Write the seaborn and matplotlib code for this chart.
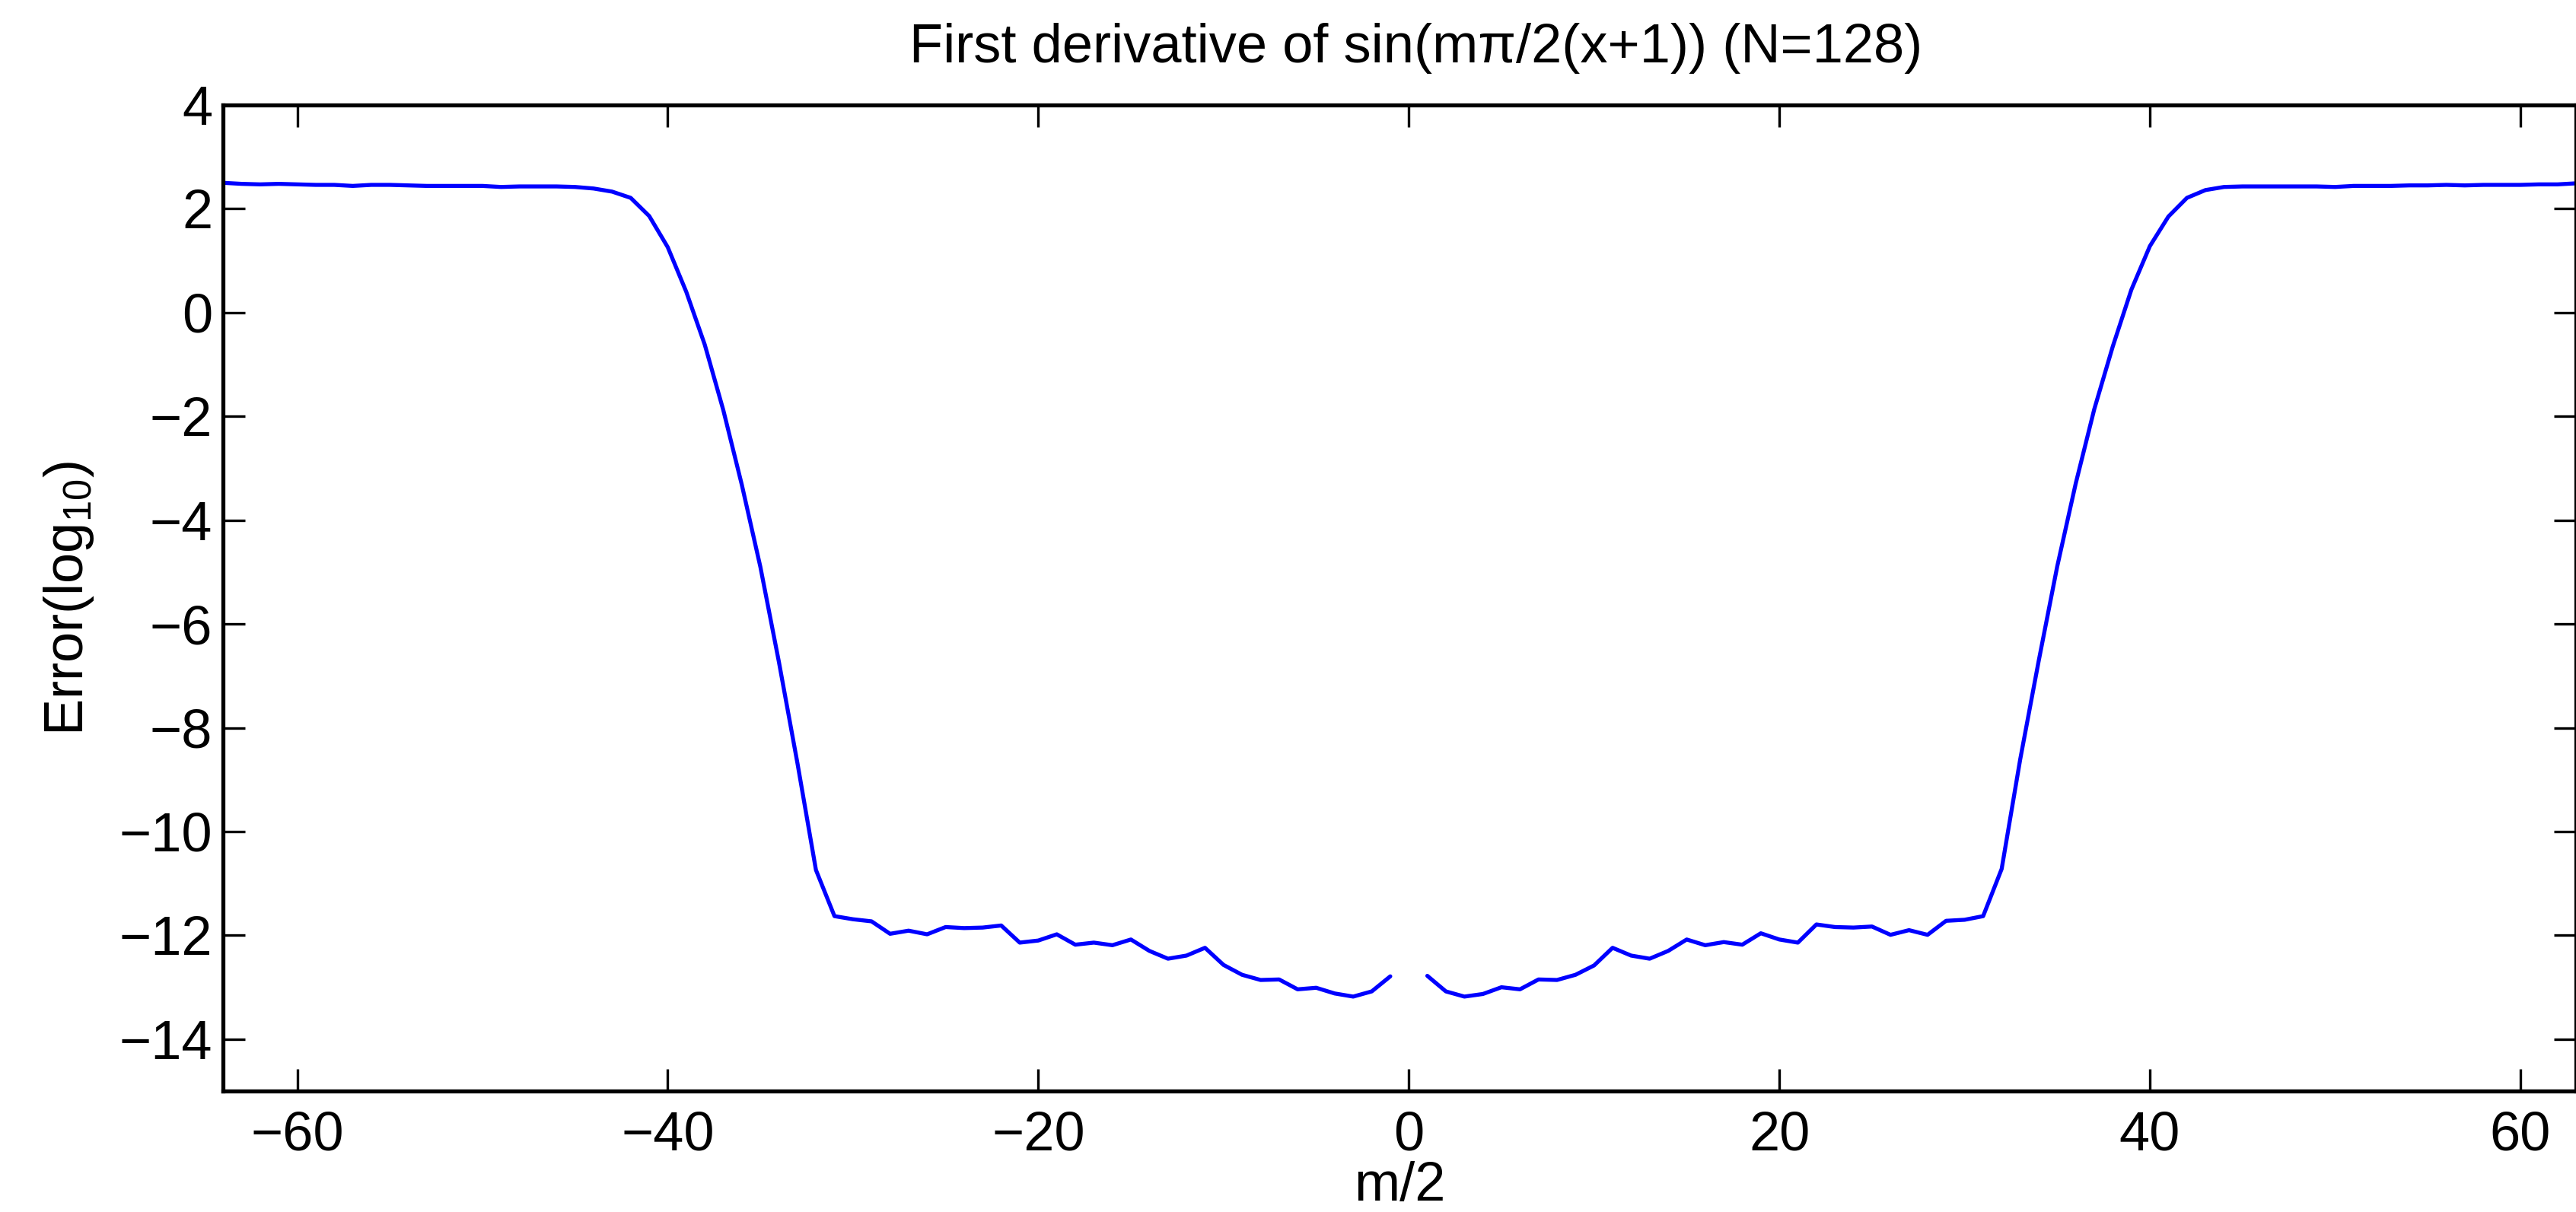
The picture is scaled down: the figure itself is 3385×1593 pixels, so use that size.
import numpy as np
import pandas as pd
import matplotlib
matplotlib.use("Agg")
import matplotlib.pyplot as plt
import seaborn as sns

m_left = list(range(-64, 0))
err_left = [2.50, 2.48, 2.47, 2.48, 2.47, 2.46, 2.46, 2.44, 2.46, 2.46,
            2.45, 2.44, 2.44, 2.44, 2.44, 2.42, 2.43, 2.43, 2.43, 2.42,
            2.39, 2.33, 2.21, 1.86, 1.26, 0.40, -0.62, -1.88, -3.32, -4.90,
            -6.73, -8.68, -10.74, -11.63, -11.69, -11.73, -11.97, -11.91, -11.98, -11.84,
            -11.86, -11.85, -11.81, -12.14, -12.10, -11.98, -12.18, -12.14, -12.19, -12.08,
            -12.30, -12.45, -12.39, -12.24, -12.57, -12.76, -12.86, -12.85, -13.04, -13.01,
            -13.12, -13.18, -13.08, -12.79]

m_right = list(range(1, 64))
err_right = [-12.78, -13.08, -13.18, -13.13, -13.00, -13.04, -12.85, -12.86, -12.76, -12.58,
             -12.24, -12.39, -12.45, -12.30, -12.08, -12.19, -12.13, -12.18, -11.96, -12.08,
             -12.14, -11.79, -11.84, -11.85, -11.83, -11.99, -11.90, -11.99, -11.72, -11.70,
             -11.63, -10.72, -8.61, -6.71, -4.89, -3.29, -1.86, -0.65, 0.44, 1.28,
             1.85, 2.21, 2.36, 2.42, 2.43, 2.43, 2.43, 2.43, 2.43, 2.42,
             2.44, 2.44, 2.44, 2.45, 2.45, 2.46, 2.45, 2.46, 2.46, 2.46,
             2.47, 2.47, 2.49]

x_ticks = [-60, -40, -20, 0, 20, 40, 60]
y_ticks = [4, 2, 0, -2, -4, -6, -8, -10, -12, -14]

df = pd.DataFrame({
    "m": m_left + m_right,
    "err": err_left + err_right,
    "seg": ["L"] * len(m_left) + ["R"] * len(m_right),
})

sns.set_style("ticks")
plt.rcParams["font.family"] = ["Liberation Sans", "DejaVu Sans"]
plt.rcParams["mathtext.default"] = "regular"
for k in ["text.color", "axes.labelcolor", "xtick.color", "ytick.color", "axes.edgecolor"]:
    plt.rcParams[k] = "black"

fig = plt.figure(figsize=(16.925, 7.965), dpi=200)
ax = fig.add_axes([0.0866, 0.0998, 0.9134, 0.8136])

sns.lineplot(data=df, x="m", y="err", units="seg", estimator=None,
             color="#0000ff", linewidth=1.9, ax=ax, legend=False)

ax.set_xlim(-64, 63)
ax.set_ylim(-15, 4)
ax.set_xticks(x_ticks)
ax.set_yticks(y_ticks)
ax.tick_params(direction="in", length=10.5, width=1.2, labelsize=26,
               top=True, right=True)
ax.tick_params(axis="x", pad=9)
ax.tick_params(axis="y", pad=5)
for s in ax.spines.values():
    s.set_visible(True)
    s.set_linewidth(1.9)
    s.set_color("black")

ax.set_xlabel("m/2", fontsize=26, labelpad=0)
ax.set_ylabel("Error(log$_{10}$)", fontsize=26, labelpad=11)
ax.set_title("First derivative of sin(mπ/2(x+1)) (N=128)", fontsize=26, pad=20, x=0.507)

fig.savefig("out.png", dpi=200)
